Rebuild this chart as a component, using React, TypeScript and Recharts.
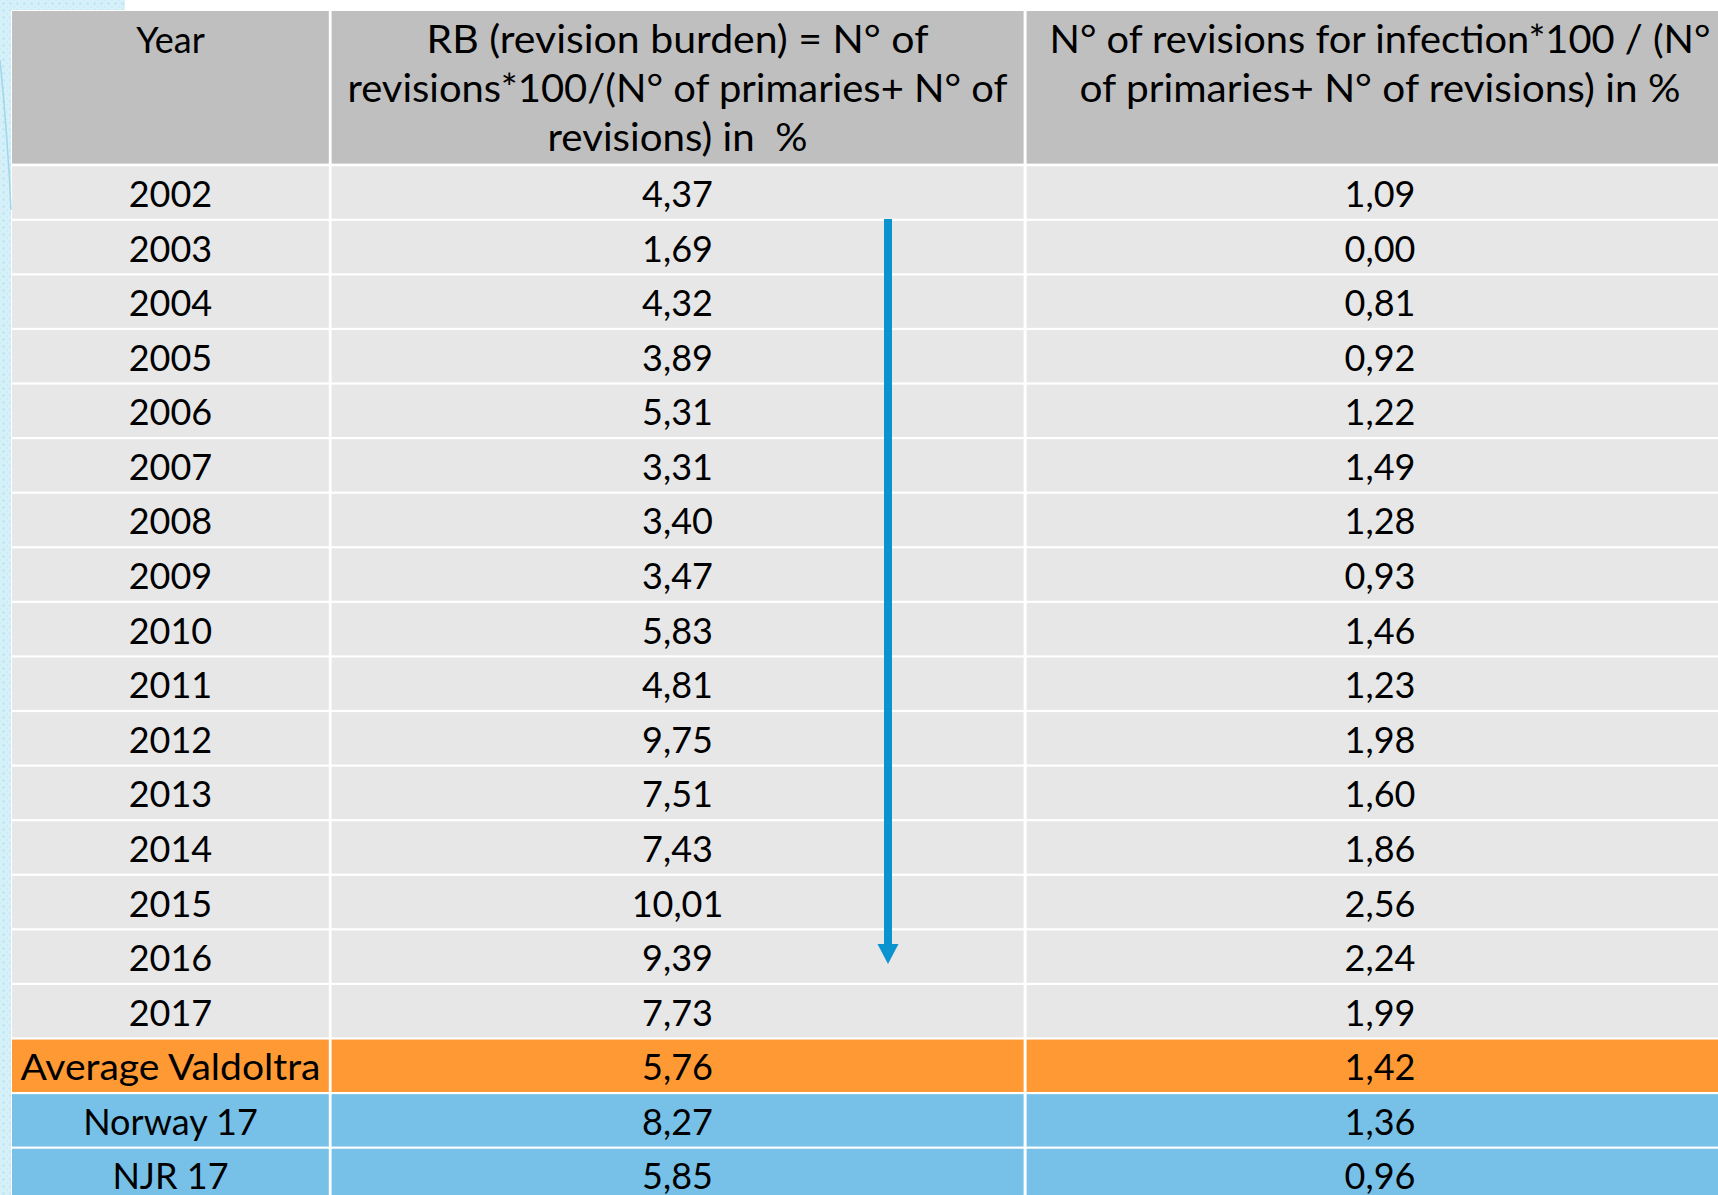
import React from 'react';
import { ComposedChart, Bar, XAxis, YAxis } from 'recharts';

// table rows (year or summary label)
const rowLabels = [
  '2002', '2003', '2004', '2005', '2006', '2007', '2008', '2009',
  '2010', '2011', '2012', '2013', '2014', '2015', '2016', '2017',
  'Average Valdoltra', 'Norway 17', 'NJR 17',
];
const rowGroups = [
  'year', 'year', 'year', 'year', 'year', 'year', 'year', 'year',
  'year', 'year', 'year', 'year', 'year', 'year', 'year', 'year',
  'average', 'registry', 'registry',
];
// RB (revision burden) in %
const revisionBurden = [
  4.37, 1.69, 4.32, 3.89, 5.31, 3.31, 3.4, 3.47,
  5.83, 4.81, 9.75, 7.51, 7.43, 10.01, 9.39, 7.73,
  5.76, 8.27, 5.85,
];
// revisions for infection in %
const infectionRevisions = [
  1.09, 0.0, 0.81, 0.92, 1.22, 1.49, 1.28, 0.93,
  1.46, 1.23, 1.98, 1.6, 1.86, 2.56, 2.24, 1.99,
  1.42, 1.36, 0.96,
];

const headerYear = 'Year';
const headerBurden = [
  'RB (revision burden) = N° of',
  'revisions*100/(N° of primaries+ N° of',
  'revisions) in  %',
];
const headerInfection = [
  'N° of revisions for infection*100 / (N°',
  'of primaries+ N° of revisions) in %',
];

const W = 1718;
const H = 1195;
const FONT = 'Lato, "Open Sans", sans-serif';

const COLS = [
  { x0: 12, x1: 328.8, cx: 170.5 },
  { x0: 331.6, x1: 1023.6, cx: 677.5 },
  { x0: 1026.6, x1: 1740, cx: 1380 },
];

const groupFill: Record<string, string> = {
  year: '#E7E7E7',
  average: '#FF9933',
  registry: '#77C1E8',
};

const fmt = (v: number) => v.toFixed(2).replace('.', ',');

const data = rowLabels.map((label, i) => ({
  label,
  rb: revisionBurden[i],
  inf: infectionRevisions[i],
  group: rowGroups[i],
}));

function TableRow(props: any) {
  const { y, height, payload } = props;
  const fill = groupFill[payload.group];
  const cells = [payload.label, fmt(payload.rb), fmt(payload.inf)];
  const base = y + height / 2 + 14.5;
  return (
    <g>
      {COLS.map((c, i) => {
        // the long summary label fills its cell in the original (Calibri is wider)
        const stretch = i === 0 && cells[i].length > 12;
        return (
          <g key={i}>
            <rect x={c.x0} y={y + 1.3} width={c.x1 - c.x0} height={height - 2.6} fill={fill} />
            <text
              x={c.cx}
              y={base}
              textAnchor="middle"
              fontFamily={FONT}
              fontSize={36}
              fill="#000"
              textLength={stretch ? 300 : undefined}
              lengthAdjust={stretch ? 'spacingAndGlyphs' : undefined}
            >
              {cells[i]}
            </text>
          </g>
        );
      })}
    </g>
  );
}

// reference widths of the header lines (Gill Sans in the original)
const burdenWidths = [502, 660, 260];
const infectionWidths = [661, 601];
const headerBaselines = [53, 102, 151];

export default function App() {
  return (
    <div
      style={{
        position: 'absolute',
        left: 0,
        top: 0,
        width: W,
        height: H,
        overflow: 'hidden',
        background: '#fff',
      }}
    >
      <div style={{ position: 'absolute', left: 0, top: 0 }}>
        <ComposedChart
          width={1740}
          height={1202}
          data={data}
          layout="vertical"
          margin={{ top: 165, right: 0, bottom: 0, left: 12 }}
          barCategoryGap={0}
        >
          <XAxis type="number" hide domain={[0, 12]} />
          <YAxis type="category" dataKey="label" hide />
          <Bar dataKey="rb" shape={TableRow} isAnimationActive={false} />
        </ComposedChart>
      </div>

      <svg
        width={W}
        height={H}
        style={{ position: 'absolute', left: 0, top: 0, pointerEvents: 'none' }}
      >
        <defs>
          <pattern id="deco" width="7" height="7" patternUnits="userSpaceOnUse">
            <rect width="7" height="7" fill="#C6EAF5" />
            <rect x="1" y="1" width="5" height="5" fill="none" stroke="#E4F6FB" strokeWidth="1" />
          </pattern>
        </defs>
        <rect x={0} y={0} width={11} height={H} fill="url(#deco)" />
        <rect x={0} y={0} width={125} height={10} fill="url(#deco)" />
        <path d="M0,60 Q8,140 11,210" fill="none" stroke="#9FD6EA" strokeWidth={1.5} />

        {/* header */}
        {COLS.map((c, i) => (
          <rect key={i} x={c.x0} y={11} width={c.x1 - c.x0} height={152.6} fill="#BFBFBF" />
        ))}
        <text x={COLS[0].cx} y={52.5} textAnchor="middle" fontFamily={FONT} fontSize={36} fill="#000">
          {headerYear}
        </text>
        {headerBurden.map((line, i) => (
          <text
            key={i}
            x={COLS[1].cx}
            y={headerBaselines[i]}
            textAnchor="middle"
            fontFamily={FONT}
            fontSize={38}
            fill="#000"
            textLength={burdenWidths[i]}
            lengthAdjust="spacingAndGlyphs"
            style={{ whiteSpace: 'pre' }}
          >
            {line}
          </text>
        ))}
        {headerInfection.map((line, i) => (
          <text
            key={i}
            x={COLS[2].cx}
            y={headerBaselines[i]}
            textAnchor="middle"
            fontFamily={FONT}
            fontSize={38}
            fill="#000"
            textLength={infectionWidths[i]}
            lengthAdjust="spacingAndGlyphs"
          >
            {line}
          </text>
        ))}

        {/* trend arrow */}
        <line x1={888} y1={219} x2={888} y2={947} stroke="#0A93CF" strokeWidth={8} />
        <polygon points="877.5,944 898.5,944 888,964" fill="#0A93CF" />
      </svg>
    </div>
  );
}
